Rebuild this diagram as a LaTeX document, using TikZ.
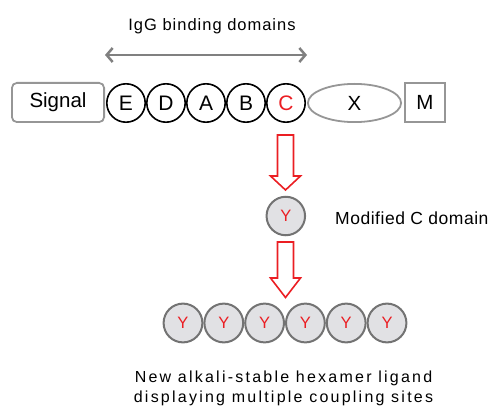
\documentclass[tikz,border=0pt]{standalone}
\usepackage{fontspec}
\setmainfont{Liberation Sans}
\newfontfamily\wideface[LetterSpace=14]{Liberation Sans}
\newfontfamily\midface[LetterSpace=6]{Liberation Sans}
\newfontfamily\lightface[LetterSpace=3]{Liberation Sans}
\usetikzlibrary{arrows.meta,shapes.geometric}
\definecolor{redC}{RGB}{235,30,35}
\definecolor{grayline}{RGB}{150,150,150}
\definecolor{arrowgray}{RGB}{128,128,128}
\definecolor{cfill}{RGB}{225,225,228}
\definecolor{cedge}{RGB}{115,115,115}
\begin{document}
\begin{tikzpicture}[x=1pt,y=-1pt,
  dom/.style={circle,draw=black,line width=1.6pt,minimum size=38.4pt,inner sep=0pt,font=\fontsize{21}{21}\selectfont},
  ydom/.style={circle,draw=cedge,fill=cfill,line width=2pt,minimum size=38.5pt,inner sep=0pt,text=redC,font=\fontsize{16.5}{16.5}\selectfont},
  graybox/.style={draw=grayline,line width=1.8pt,inner sep=0pt,font=\fontsize{20.5}{20.5}\selectfont},
  blockarrow/.style={draw=redC,fill=white,line width=1.6pt,line join=miter},
  spanarrow/.style={draw=arrowgray,line width=2.5pt,{Straight Barb[length=6pt,width=14pt]}-{Straight Barb[length=6pt,width=14pt]}}]
\useasboundingbox (0,0) rectangle (492,406);

% title and span arrow
\node[anchor=base,inner sep=0pt] (title) at (212,31) {\midface\fontsize{16.5}{16.5}\selectfont IgG binding domains};
\coordinate (spanL) at (105,55);
\coordinate (spanR) at (307,55);
\draw[spanarrow] (spanL) -- (spanR);

% precursor chain
\node[graybox,rounded corners=5pt,minimum width=92.2pt,minimum height=39.2pt] (signal) at (58,102.5) {Signal};
\node[dom] (E) at (126,103) {E};
\node[dom] (D) at (166,103) {D};
\node[dom] (A) at (206,103) {A};
\node[dom] (B) at (246,103) {B};
\node[dom,text=redC] (C) at (286,103) {C};
\node[graybox,ellipse,minimum width=93.2pt,minimum height=38.2pt] (X) at (354.5,103) {X};
\node[graybox,minimum width=40.2pt,minimum height=39.2pt] (M) at (425,102.5) {M};

% modified C domain
\node[ydom] (Y) at (285.8,216) {Y};
\node[anchor=base west,inner sep=0pt] (ylabel) at (335,224.3) {\lightface\fontsize{17.5}{17.5}\selectfont Modified C domain};

% block arrows
\draw[blockarrow] (277.5,135) -- (277.5,176) -- (270.5,176) -- (285.5,190) -- (300.5,176) -- (293.5,176) -- (293.5,135) -- cycle;
\draw[blockarrow] (277.5,242) -- (277.5,278) -- (270.5,278) -- (285.5,297.5) -- (300.5,278) -- (293.5,278) -- (293.5,242) -- cycle;

% hexamer
\foreach \i in {0,...,5} {
  \node[ydom,minimum size=38.8pt] (H\i) at ({183+40.8*\i},323) {Y};
}

% caption
\node[anchor=base,inner sep=0pt] (cap1) at (283.5,382) {\wideface\fontsize{16}{16}\selectfont New alkali-stable hexamer ligand};
\node[anchor=base,inner sep=0pt] (cap2) at (283.5,402) {\wideface\fontsize{16}{16}\selectfont displaying multiple coupling sites};
\end{tikzpicture}
\end{document}
